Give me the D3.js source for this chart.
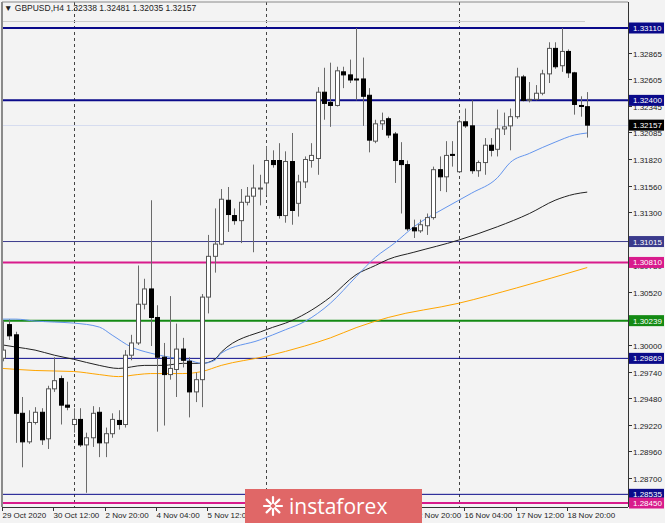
<!DOCTYPE html>
<html><head><meta charset="utf-8">
<script src="https://cdn.jsdelivr.net/npm/d3@7"></script>
<style>body{margin:0;background:#f3f3f3;overflow:hidden}svg{display:block}</style>
</head><body>
<svg id="c" width="665" height="523"></svg>
<script>
// ---- DATA ----
const symbolTitle = "GBPUSD,H4";
const lastOHLC = ["1.32338","1.32481","1.32035","1.32157"];
const opens  = [1.2987,1.3020,1.3010,1.2933,1.2905,1.2924,1.2934,1.2908,1.2957,1.2967,1.2941,1.2922,1.2927,1.2902,1.2909,1.2934,1.2904,1.2913,1.2926,1.2922,
                1.2990,1.3002,1.3040,1.3055,1.3027,1.2988,1.2971,1.2976,1.2996,1.2984,1.2954,1.2966,1.3047,1.3087,1.3099,1.3142,1.3127,1.3122,1.3140,1.3146,
                1.3153,1.3159,1.3181,1.3181,1.3127,1.3180,1.3139,1.3160,1.3181,1.3183,1.3248,1.3238,1.3235,1.3268,1.3265,1.3261,1.3261,1.3245,1.3200,1.3217,
                1.3222,1.3207,1.3181,1.3177,1.3115,1.3112,1.3117,1.3125,1.3172,1.3165,1.3187,1.3170,1.3219,1.3215,1.3171,1.3179,1.3196,1.3192,1.3212,1.3215,
                1.3224,1.3263,1.3240,1.3241,1.3247,1.3266,1.3291,1.3274,1.3288,1.3267,1.3235,1.32338];
const highs  = [1.3024,1.3025,1.3013,1.2949,1.2936,1.2939,1.2938,1.2960,1.2988,1.2970,1.2964,1.2938,1.2938,1.2914,1.2940,1.2939,1.2919,1.2933,1.2936,1.2995,
                1.3010,1.3078,1.3065,1.3142,1.3039,1.3002,1.3048,1.3021,1.3007,1.2988,1.2973,1.3050,1.3108,1.3134,1.3153,1.3155,1.3134,1.3153,1.3155,1.3177,
                1.3167,1.3195,1.3191,1.3198,1.3190,1.3208,1.3167,1.3185,1.3198,1.3253,1.3272,1.3277,1.3273,1.3273,1.3280,1.3311,1.3282,1.3252,1.3221,1.3228,
                1.3224,1.3209,1.3199,1.3181,1.3123,1.3123,1.3129,1.3175,1.3185,1.3200,1.3200,1.3221,1.3232,1.3240,1.3181,1.3203,1.3203,1.3231,1.3228,1.3232,
                1.3272,1.3265,1.3258,1.3255,1.3270,1.3297,1.3297,1.3311,1.3290,1.3268,1.3244,1.32481];
const lows   = [1.2984,1.3005,1.2904,1.2880,1.2903,1.2922,1.2902,1.2898,1.2954,1.2922,1.2936,1.2914,1.2900,1.2855,1.2900,1.2890,1.2890,1.2909,1.2917,1.2919,
                1.2985,1.3000,1.3035,1.2999,1.2915,1.2921,1.2966,1.2949,1.2978,1.2929,1.2944,1.2939,1.3031,1.3071,1.3098,1.3111,1.3118,1.3100,1.3137,1.3091,
                1.3137,1.3147,1.3174,1.3124,1.3120,1.3118,1.3126,1.3154,1.3174,1.3167,1.3221,1.3214,1.3234,1.3252,1.3257,1.3240,1.3215,1.3189,1.3198,1.3211,
                1.3203,1.3159,1.3129,1.3112,1.3105,1.3110,1.3108,1.3123,1.3151,1.3150,1.3175,1.3169,1.3213,1.3168,1.3165,1.3167,1.3185,1.3185,1.3206,1.3191,
                1.3222,1.3239,1.3238,1.3240,1.3245,1.3257,1.3271,1.3268,1.3262,1.3226,1.3224,1.32035];
const closes = [1.2995,1.3009,1.2933,1.2905,1.2924,1.2934,1.2907,1.2957,1.2965,1.2941,1.2939,1.2927,1.2902,1.2909,1.2933,1.2904,1.2913,1.2927,1.2922,1.2990,
                1.3002,1.3040,1.3055,1.3027,1.2988,1.2971,1.2977,1.2996,1.2985,1.2954,1.2966,1.3047,1.3087,1.3099,1.3143,1.3128,1.3122,1.3140,1.3146,1.3154,
                1.3154,1.3181,1.3177,1.3127,1.3180,1.3132,1.3160,1.3182,1.3186,1.3248,1.3237,1.3235,1.3269,1.3265,1.3260,1.3260,1.3244,1.3201,1.3217,1.3220,
                1.3206,1.3181,1.3177,1.3114,1.3112,1.3118,1.3125,1.3172,1.3165,1.3186,1.3186,1.3219,1.3215,1.3171,1.3179,1.3196,1.3191,1.3212,1.3214,1.3224,
                1.3263,1.3240,1.3241,1.3247,1.3266,1.3291,1.3273,1.3288,1.3267,1.3236,1.3234,1.32157];

// moving averages: [bar index, price]
const maBlue = [[0,1.30254],[2,1.30254],[5,1.30235],[8,1.30225],[11,1.30215],[15,1.30176],[17,1.30097],[20,1.2998],[23,1.2992],[26,1.2988],[29,1.2985],[31,1.2982],[33,1.2985],[34,1.2992],[40,1.3005],[44,1.3015],[47,1.3023],[51,1.3041],[55,1.3067],[58,1.3086],[61,1.3100],[64,1.3116],[69,1.3135],[73,1.3149],[77,1.3164],[79,1.3179],[82,1.3188],[86,1.3199],[89,1.3206],[91,1.3208]];
const maBlack = [[0,1.3000],[2,1.2998],[5,1.2995],[8,1.2990],[11,1.2986],[15,1.2980],[18,1.2977],[22,1.2980],[25,1.2980],[28,1.2982],[31,1.2982],[33,1.2986],[34,1.2993],[41,1.3015],[45,1.3024],[48,1.3034],[51,1.3047],[55,1.3069],[58,1.3078],[60,1.3084],[64,1.3091],[71,1.3103],[77,1.3116],[82,1.3129],[86,1.3142],[89,1.3148],[91,1.3150]];
const maOrange = [[0,1.2977],[5,1.2975],[11,1.2974],[15,1.2971],[18,1.2969],[21,1.2971],[23,1.2972],[28,1.2972],[31,1.2974],[34,1.2980],[41,1.2989],[47,1.2999],[51,1.3007],[55,1.3017],[60,1.3027],[71,1.3041],[80,1.3056],[91,1.3076]];

const levelPrices = [1.33110, 1.32400, 1.31015, 1.30810, 1.30239, 1.29869, 1.28535, 1.28450];
const levelLabels = ["1.33110","1.32400","1.31015","1.30810","1.30239","1.29869","1.28535","1.28450"];
const levelColors = ["#0a0a8a","#0a0a8a","#3a3a8c","#d81b8c","#138a13","#0a0a8a","#0a0a8a","#d81b8c"];
const levelWidths = [2,2,1,2,2,1,1,2];
const bidPrice = 1.32157;

// visible right-axis labels (those fully hidden by level tags are omitted)
const yTickLabels = ["1.32865","1.32605","1.32345","1.32085","1.31820","1.31560","1.31300","1.31040","1.30780","1.30520","1.30000","1.29740","1.29480","1.29220","1.28960","1.28700"];
// visible time labels (those fully hidden by the watermark are omitted)
const xTickLabels = ["29 Oct 2020","30 Oct 12:00","2 Nov 20:00","4 Nov 04:00","5 Nov 12:00","12 Nov 20:00","16 Nov 04:00","17 Nov 12:00","18 Nov 20:00"];
const xTickBars = [0,8,16,24,32,64,72,80,88];
const weekSeparatorBars = [11,41,71];

// ---- LAYOUT ----
const W=665,H=523, L=2, R=628, T=2, B=507;
const svg=d3.select("#c");
svg.append("rect").attr("width",W).attr("height",H).attr("fill","#f3f3f3");

const x=d3.scaleLinear().domain([0,91]).range([3,3+6.42*91]);
const y=d3.scaleLinear().domain([1.33110,1.28450]).range([28,503]);
const font="'Liberation Sans', Arial, sans-serif";

const plot=svg.append("g");
// separators
plot.selectAll(".sep").data(weekSeparatorBars).join("line")
  .attr("x1",d=>Math.round(x(d))+0.5).attr("x2",d=>Math.round(x(d))+0.5).attr("y1",T).attr("y2",B)
  .attr("stroke","#444").attr("stroke-dasharray","3,3").attr("stroke-width",1);

// faint line under header
plot.append("line").attr("x1",L).attr("x2",585).attr("y1",21.5).attr("y2",21.5).attr("stroke","#cccccc").attr("stroke-width",1);

// bid line
plot.append("line").attr("x1",L).attr("x2",R).attr("y1",Math.round(y(bidPrice))+0.5).attr("y2",Math.round(y(bidPrice))+0.5)
  .attr("stroke","#d6dcef").attr("stroke-width",1);

// level lines
plot.selectAll(".lvl").data(levelPrices).join("line")
  .attr("x1",L).attr("x2",R).attr("y1",d=>y(d)).attr("y2",d=>y(d))
  .attr("stroke",(d,i)=>levelColors[i]).attr("stroke-width",(d,i)=>levelWidths[i]);

// MAs
const line=d3.line().x(d=>x(d[0])).y(d=>y(d[1])).curve(d3.curveMonotoneX);
plot.append("path").attr("d",line(maOrange)).attr("fill","none").attr("stroke","#ffa500").attr("stroke-width",1);
plot.append("path").attr("d",line(maBlack)).attr("fill","none").attr("stroke","#222").attr("stroke-width",1);
plot.append("path").attr("d",line(maBlue)).attr("fill","none").attr("stroke","#6495ed").attr("stroke-width",1);

// candles
const idx=d3.range(opens.length);
const cg=plot.append("g");
cg.selectAll(".wick").data(idx).join("line")
  .attr("x1",i=>Math.round(x(i))+0.5).attr("x2",i=>Math.round(x(i))+0.5)
  .attr("y1",i=>y(highs[i])).attr("y2",i=>y(lows[i]))
  .attr("stroke","#6a6a6a").attr("stroke-width",1);
cg.selectAll(".body").data(idx).join("rect")
  .attr("x",i=>Math.round(x(i))-1.5).attr("width",4)
  .attr("y",i=>Math.min(y(opens[i]),y(closes[i])))
  .attr("height",i=>Math.max(1,Math.abs(y(opens[i])-y(closes[i]))))
  .attr("fill",i=>closes[i]>=opens[i]?"#ffffff":"#000000")
  .attr("stroke",i=>closes[i]>=opens[i]?"#555":"#000").attr("stroke-width",1);

// frame
svg.append("line").attr("x1",L).attr("x2",L).attr("y1",T).attr("y2",B).attr("stroke","#8a8a8a").attr("stroke-width",2);
svg.append("line").attr("x1",L).attr("x2",R).attr("y1",T).attr("y2",T).attr("stroke","#8a8a8a").attr("stroke-width",1);
svg.append("line").attr("x1",R+0.5).attr("x2",R+0.5).attr("y1",T).attr("y2",B).attr("stroke","#333").attr("stroke-width",1);
svg.append("line").attr("x1",L).attr("x2",R).attr("y1",B+0.5).attr("y2",B+0.5).attr("stroke","#333").attr("stroke-width",1);

// header
svg.append("text").attr("x",4).attr("y",11).attr("font-family",font).attr("font-size",8.5).attr("fill","#222")
  .text("\u25BC "+symbolTitle+"  "+lastOHLC.join(" "));

// right axis ticks
const ra=svg.append("g");
yTickLabels.forEach(t=>{
  const yy=Math.round(y(+t))+0.5;
  ra.append("line").attr("x1",R).attr("x2",R+4).attr("y1",yy).attr("y2",yy).attr("stroke","#333");
  ra.append("text").attr("x",R+5).attr("y",yy+3).attr("font-family",font).attr("font-size",8).attr("fill","#222").text(t);
});
// level tags
levelPrices.forEach((p,i)=>{
  const yy=y(p);
  ra.append("rect").attr("x",R+1).attr("y",yy-5.5).attr("width",35).attr("height",11).attr("fill",levelColors[i]);
  ra.append("text").attr("x",R+5).attr("y",yy+3).attr("font-family",font).attr("font-size",8).attr("fill","#fff").text(levelLabels[i]);
});
{
  const yy=y(bidPrice);
  ra.append("rect").attr("x",R+1).attr("y",yy-5.5).attr("width",35).attr("height",11).attr("fill","#000");
  ra.append("text").attr("x",R+5).attr("y",yy+3).attr("font-family",font).attr("font-size",8).attr("fill","#fff").text(bidPrice.toFixed(5));
}

// bottom axis
const ba=svg.append("g");
xTickLabels.forEach((t,i)=>{
  const xx=Math.round(x(xTickBars[i]))-0.5;
  ba.append("line").attr("x1",xx).attr("x2",xx).attr("y1",B).attr("y2",B+4).attr("stroke","#333");
  ba.append("text").attr("x",xx).attr("y",518).attr("font-family",font).attr("font-size",8).attr("fill","#222").text(t);
});

// watermark
const wm=svg.append("g");
wm.append("rect").attr("x",245).attr("y",489).attr("width",177).attr("height",34).attr("fill","#e06767");
const ic=wm.append("g").attr("transform","translate(273,506)");
d3.range(8).forEach(i=>{
  const a=i*Math.PI/4;
  ic.append("line").attr("x1",Math.cos(a)*3).attr("y1",Math.sin(a)*3).attr("x2",Math.cos(a)*9).attr("y2",Math.sin(a)*9)
    .attr("stroke","#fff").attr("stroke-width",2.2).attr("stroke-linecap","round");
});
wm.append("text").attr("x",289).attr("y",514).attr("font-family","'Open Sans', sans-serif").attr("font-size",21)
  .attr("fill","#fff").text("instaforex");
</script>
</body></html>
